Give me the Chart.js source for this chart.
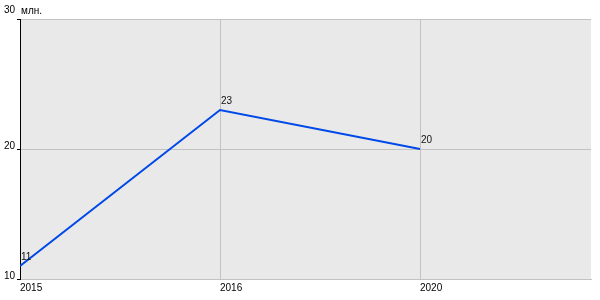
<!DOCTYPE html>
<html lang="ru">
<head>
  <meta charset="UTF-8">
  <title>млн.</title>
  <script src="https://cdn.jsdelivr.net/npm/chart.js"></script>
  <style>
    html, body { margin: 0; padding: 0; background: #fff; }
    #wrap { width: 600px; height: 300px; }
  </style>
</head>
<body>
  <div id="wrap"><canvas id="chart"></canvas></div>
  <script>
    // данные графика
    const years = ['2015', '2016', '2020'];
    const values = [11, 23, 20];
    const yTicks = [10, 20, 30];
    const unitLabel = 'млн.';

    const FONT = 'Arial, "Liberation Sans", sans-serif';

    // серый фон области построения + подпись единиц
    const plotBg = {
      id: 'plotBg',
      beforeDraw(chart) {
        const { ctx, chartArea: a } = chart;
        ctx.save();
        ctx.fillStyle = '#e9e9e9';
        ctx.fillRect(a.left, a.top, a.right - a.left, a.bottom - a.top);
        ctx.fillStyle = '#000';
        ctx.font = '10px ' + FONT;
        ctx.textBaseline = 'alphabetic';
        ctx.textAlign = 'left';
        ctx.fillText(unitLabel, a.left + 1, a.top - 5);
        ctx.restore();
      }
    };

    // подписи значений у точек
    const valueLabels = {
      id: 'valueLabels',
      afterDatasetsDraw(chart) {
        const { ctx } = chart;
        const meta = chart.getDatasetMeta(0);
        ctx.save();
        ctx.fillStyle = '#111';
        ctx.font = '10px ' + FONT;
        ctx.textAlign = 'left';
        ctx.textBaseline = 'alphabetic';
        meta.data.forEach((pt, i) => {
          ctx.fillText(String(values[i]), pt.x + 1, pt.y - 6);
        });
        ctx.restore();
      }
    };

    new Chart(document.getElementById('chart'), {
      type: 'line',
      data: {
        datasets: [{
          data: values.map((v, i) => ({ x: i, y: v })),
          borderColor: '#0048e8',
          borderWidth: 2,
          pointRadius: 0,
          tension: 0,
          fill: false
        }]
      },
      options: {
        responsive: true,
        maintainAspectRatio: false,
        animation: false,
        layout: { padding: { top: 19, right: 9, left: 0, bottom: 0 } },
        plugins: { legend: { display: false }, tooltip: { enabled: false } },
        scales: {
          x: {
            type: 'linear',
            min: 0,
            max: 2.855,
            afterBuildTicks: s => { s.ticks = years.map((_, i) => ({ value: i })); },
            afterFit: s => { s.height = 21; },
            ticks: {
              callback: v => years[v],
              align: 'start',
              maxRotation: 0,
              padding: 3,
              color: '#000',
              font: { family: FONT, size: 10 }
            },
            grid: { color: '#c2c2c2', drawTicks: false },
            border: { color: '#c2c2c2' }
          },
          y: {
            min: 10,
            max: 30,
            afterBuildTicks: s => { s.ticks = yTicks.map(v => ({ value: v })); },
            afterFit: s => { s.width = 20; },
            ticks: {
              // верхняя подпись стоит выше линии
              callback: v => v === 30 ? [String(v), ''] : String(v),
              padding: 2,
              labelOffset: -3,
              color: '#000',
              font: { family: FONT, size: 10 }
            },
            grid: { color: '#c2c2c2', tickColor: '#000', tickLength: 3 },
            border: { color: '#000', width: 1 }
          }
        }
      },
      plugins: [plotBg, valueLabels]
    });
  </script>
</body>
</html>
